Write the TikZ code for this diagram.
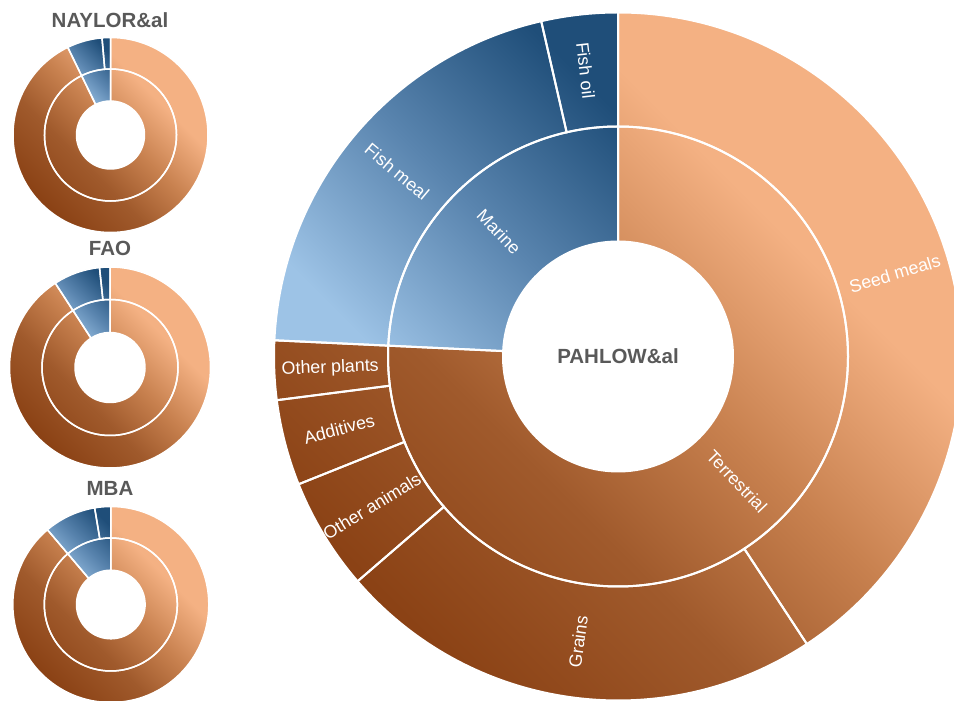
\documentclass[tikz,border=0pt]{standalone}
\usepackage{fontspec}
\setmainfont{Liberation Sans}
\usetikzlibrary{calc}
\definecolor{terrdark}{HTML}{8A4114}
\definecolor{terrmida}{HTML}{A05A2C}
\definecolor{terrmidb}{HTML}{C8814F}
\definecolor{terrlight}{HTML}{F4B183}
\definecolor{mardark}{HTML}{1F4E79}
\definecolor{marmid}{HTML}{5A85AF}
\definecolor{marlight}{HTML}{9DC3E6}
\definecolor{titlegray}{HTML}{595959}
\pgfdeclareverticalshading{terrgrad}{100bp}{color(0bp)=(terrdark); color(25bp)=(terrdark); color(40bp)=(terrmida); color(52bp)=(terrmidb); color(65bp)=(terrlight); color(100bp)=(terrlight)}
\pgfdeclareverticalshading{margrad}{100bp}{color(0bp)=(marlight); color(25bp)=(marlight); color(50bp)=(marmid); color(75bp)=(mardark); color(100bp)=(mardark)}
\newcommand\ringpart[6]{\path[#1] ($(#2)+(#5:#4)$) arc[start angle=#5, end angle=#6, radius=#4] -- ($(#2)+(#6:#3)$) arc[start angle=#6, end angle=#5, radius=#3] -- cycle;}

\begin{document}
\begin{tikzpicture}[x=1pt,y=1pt,
  terrshade/.style={shade, shading=terrgrad, shading angle=-45},
  marshade/.style={shade, shading=margrad, shading angle=-45},
  seg/.style={draw=white, line width=2pt},
  smallseg/.style={draw=white, line width=1.5pt},
  lbl/.style={text=white, inner sep=0pt, font=\fontsize{17.8}{20}\selectfont},
  charttitle/.style={text=titlegray, inner sep=0pt, font=\bfseries\fontsize{20.5}{24}\selectfont}]
\useasboundingbox (0,0) rectangle (954,701);
\coordinate (c_big) at (618,344.5);
\coordinate (c_nay) at (110.5,566);
\coordinate (c_fao) at (110,333.5);
\coordinate (c_mba) at (110.8,96.5);

\ringpart{terrshade}{c_big}{115}{344}{90}{-182.7}
\ringpart{marshade}{c_big}{115}{344}{-182.7}{-270}
\ringpart{seg}{c_big}{115}{230}{90}{-182.7}
\ringpart{seg}{c_big}{115}{230}{-182.7}{-270}
\ringpart{seg}{c_big}{230}{344}{90}{-56.7}
\ringpart{seg}{c_big}{230}{344}{-56.7}{-139.2}
\ringpart{seg}{c_big}{230}{344}{-139.2}{-158.2}
\ringpart{seg}{c_big}{230}{344}{-158.2}{-172.7}
\ringpart{seg}{c_big}{230}{344}{-172.7}{-182.7}
\ringpart{seg}{c_big}{230}{344}{-182.7}{-257.1}
\ringpart{seg}{c_big}{230}{344}{-257.1}{-270}

\ringpart{terrshade}{c_nay}{34}{97.5}{90}{-244}
\ringpart{marshade}{c_nay}{34}{97.5}{-244}{-270}
\ringpart{smallseg}{c_nay}{34}{66}{90}{-244}
\ringpart{smallseg}{c_nay}{34}{66}{-244}{-270}
\ringpart{smallseg}{c_nay}{66}{97.5}{90}{-244}
\ringpart{smallseg}{c_nay}{66}{97.5}{-244}{-265}
\ringpart{smallseg}{c_nay}{66}{97.5}{-265}{-270}

\ringpart{terrshade}{c_fao}{35}{100.5}{90}{-237}
\ringpart{marshade}{c_fao}{35}{100.5}{-237}{-270}
\ringpart{smallseg}{c_fao}{35}{68}{90}{-237}
\ringpart{smallseg}{c_fao}{35}{68}{-237}{-270}
\ringpart{smallseg}{c_fao}{68}{100.5}{90}{-237}
\ringpart{smallseg}{c_fao}{68}{100.5}{-237}{-264}
\ringpart{smallseg}{c_fao}{68}{100.5}{-264}{-270}

\ringpart{terrshade}{c_mba}{34.3}{98}{90}{-229.7}
\ringpart{marshade}{c_mba}{34.3}{98}{-229.7}{-270}
\ringpart{smallseg}{c_mba}{34.3}{66.5}{90}{-229.7}
\ringpart{smallseg}{c_mba}{34.3}{66.5}{-229.7}{-270}
\ringpart{smallseg}{c_mba}{66.5}{98}{90}{-229.7}
\ringpart{smallseg}{c_mba}{66.5}{98}{-229.7}{-260.5}
\ringpart{smallseg}{c_mba}{66.5}{98}{-260.5}{-270}

\node[lbl, rotate=-46.35] (l_terr) at ($(c_big)+(-46.35:172.5)$) {Terrestrial};
\node[lbl, rotate=-46.35] (l_mar) at ($(c_big)+(-226.35:172.5)$) {Marine};
\node[lbl, rotate=16.65] (l_seed) at ($(c_big)+(16.65:289)$) {Seed meals};
\node[lbl, rotate=82.05] (l_grains) at ($(c_big)+(-97.95:288)$) {Grains};
\node[lbl, rotate=31.3] (l_animals) at ($(c_big)+(-148.7:288)$) {Other animals};
\node[lbl, rotate=14.55] (l_additives) at ($(c_big)+(-165.45:288)$) {Additives};
\node[lbl, rotate=2.3] (l_plants) at ($(c_big)+(-177.7:288)$) {Other plants};
\node[lbl, rotate=-39.9] (l_fishmeal) at ($(c_big)+(-219.9:288)$) {Fish meal};
\node[lbl, rotate=-83.55] (l_fishoil) at ($(c_big)+(-263.55:288)$) {Fish oil};

\node[charttitle] (t_pahlow) at (c_big) {PAHLOW\&al};
\node[charttitle] (t_naylor) at (110,681) {NAYLOR\&al};
\node[charttitle] (t_fao) at (110,453) {FAO};
\node[charttitle] (t_mba) at (110,213) {MBA};
\end{tikzpicture}
\end{document}
